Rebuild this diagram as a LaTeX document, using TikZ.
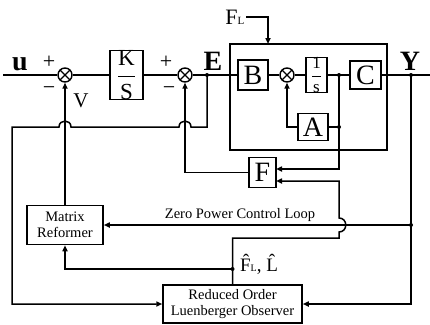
\documentclass[tikz,border=0pt]{standalone}
\usepackage{fontspec}
\setmainfont{Liberation Serif}
\usetikzlibrary{arrows.meta,calc}
\begin{document}
\begin{tikzpicture}[x=1pt,y=-1pt,line width=1.5pt,
  box/.style={draw,line width=1.5pt,inner sep=0pt,fill=white},
  sumnode/.style={draw,circle,minimum size=14pt,inner sep=0pt,fill=white,line width=1.4pt,
    path picture={\draw[line width=1.1pt] (path picture bounding box.north west)--(path picture bounding box.south east)
      (path picture bounding box.north east)--(path picture bounding box.south west);}},
  arr/.style={-{Triangle[length=6pt,width=5pt]}},
  dot/.style={circle,fill,inner sep=0pt,minimum size=4pt},
  bigtxt/.style={font=\fontsize{28}{30}\selectfont},
  boldtxt/.style={font=\fontsize{28}{30}\selectfont\bfseries},
  sgn/.style={font=\fontsize{22}{24}\selectfont},
  smalltxt/.style={font=\fontsize{14.5}{15.5}\selectfont}
]
\useasboundingbox (0,0) rectangle (430,324);
% plant box
\node[draw,line width=1.5pt,minimum width=157pt,minimum height=106pt,inner sep=0pt] (plant) at (308.5,97) {};
% main chain
\coordinate (uS) at (3,75);
\node[sumnode] (s1) at (65,75) {};
\node[box,minimum width=33pt,minimum height=46pt,font=\fontsize{23}{25}\selectfont] (ks) at (126.5,75) {$\displaystyle\frac{\mbox{K}}{\mbox{S}}$};
\node[sumnode] (s2) at (185,75) {};
\coordinate (eJ) at (207,75);
\node[box,bigtxt,minimum width=30pt,minimum height=30pt] (B) at (253,75) {B};
\node[sumnode] (s3) at (287,75) {};
\node[box,minimum width=21pt,minimum height=35pt,font=\fontsize{17}{19}\selectfont] (int) at (316.5,75) {$\displaystyle\frac{\mbox{1}}{\mbox{s}}$};
\coordinate (j1) at (339,75);
\node[box,bigtxt,minimum width=31pt,minimum height=28pt] (C) at (365.5,75) {C};
\coordinate (yJ) at (411,75);
\coordinate (yE) at (430,75);
\node[box,bigtxt,minimum width=30pt,minimum height=27pt] (A) at (313,127) {A};
\coordinate (jA) at (339,127);
\node[box,bigtxt,minimum width=27pt,minimum height=30pt] (F) at (262.5,172.5) {F};
\coordinate (Fin1) at (276,169);
\coordinate (Fin2) at (276,181);
\node[box,smalltxt,align=center,minimum width=76pt,minimum height=39pt] (MR) at (65,225) {Matrix\\Reformer};
\node[box,smalltxt,align=center,minimum width=139pt,minimum height=38pt] (obs) at (232.5,304) {Reduced Order\\Luenberger Observer};
\coordinate (zJ) at (411,225);
\coordinate (bJ) at (232.5,269);
\coordinate (flin) at (268,44);
% labels
\node[boldtxt] (uL) at (20,64) {u};
\node[boldtxt] (EL) at (213,61) {E};
\node[boldtxt] (YL) at (410,61) {Y};
\node[sgn] (p1) at (49,62) {+};
\node[sgn] (m1) at (49,91) {−};
\node[font=\fontsize{21}{23}\selectfont] (VL) at (81,101) {V};
\node[sgn] (p2) at (166,62) {+};
\node[sgn] (m2) at (169,91) {−};
\node[font=\fontsize{22}{24}\selectfont,anchor=east,inner sep=1pt] (FL) at (246,17) {F{\fontsize{11}{12}\selectfont L}};
\node[smalltxt] (zpl) at (240,215) {Zero Power Control Loop};
\node[font=\fontsize{19}{21}\selectfont] (hat) at (259,264) {\^{F}{\fontsize{10}{11}\selectfont L}, \^{L}};
% connectors
\draw (uS) -- (s1.west);
\draw (s1.east) -- (ks.west);
\draw (ks.east) -- (s2.west);
\draw (s2.east) -- (B.west);
\draw (B.east) -- (s3.west);
\draw (s3.east) -- (int.west);
\draw (int.east) -- (C.west);
\draw (C.east) -- (yE);
\draw[arr] (FL.east) -| (flin);
\draw[arr] (eJ) -- (207,127) -- (191,127) .. controls (191,119) and (179,119) .. (179,127)
  -- (71,127) .. controls (71,119) and (59,119) .. (59,127) -- (12,127) |- (obs.west);
\draw[arr] (MR.north) -- (s1.south);
\draw[arr] (F.west) -| (s2.south);
\draw[arr] (A.west) -| (s3.south);
\draw (jA) -- (A.east);
\draw[arr] (j1) |- (Fin1);
\draw[arr] (obs.north) -- (232.5,238) -- (339,238) -- (339,232) .. controls (348,232) and (348,218) .. (339,218) -- (Fin2 -| 339,0) -- (Fin2);
\draw[arr] (bJ) -| (MR.south);
\draw[arr] (yJ) |- (obs.east);
\draw[arr] (zJ) -- (MR.east);
% dots
\foreach \p in {eJ,j1,jA,yJ,zJ,bJ} \node[dot] at (\p) {};
\end{tikzpicture}
\end{document}
